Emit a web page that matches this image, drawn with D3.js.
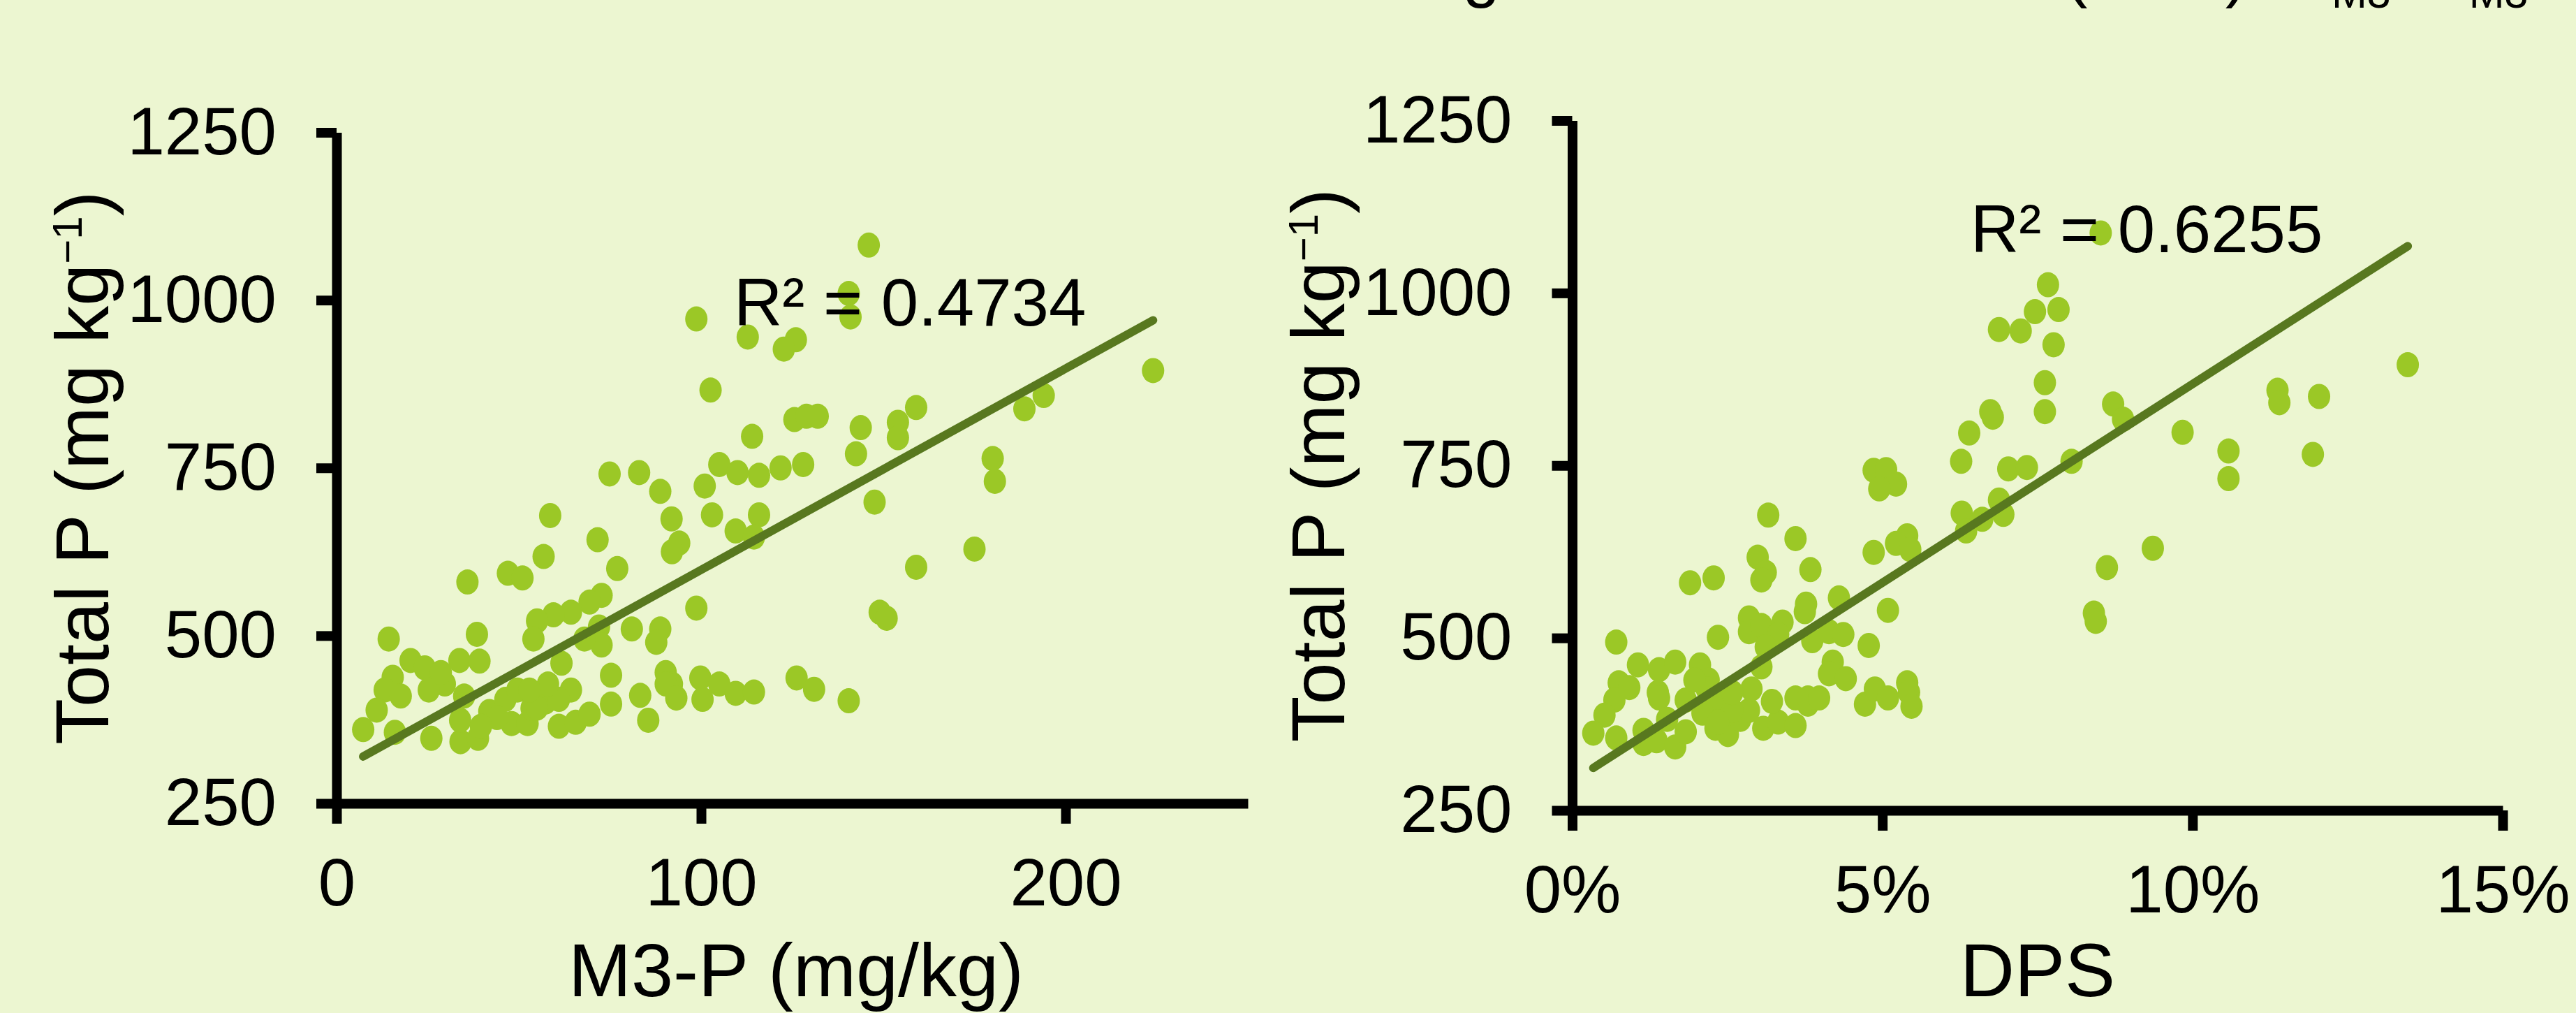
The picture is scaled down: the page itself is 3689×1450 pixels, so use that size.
<!DOCTYPE html>
<html lang="en">
<head>
<meta charset="UTF-8">
<title>Total P vs M3-P and DPS</title>
<script src="https://d3js.org/d3.v7.min.js"></script>
<style>
  body { margin: 0; background: #ecf6d1; }
  svg { display: block; font-family: "Liberation Sans", Arial, sans-serif; }
  .axis path, .axis line { stroke: #000; stroke-width: 14; }
  .axis text { font-family: "Liberation Sans", Arial, sans-serif; font-size: 96px; fill: #000; }
</style>
</head>
<body>
<svg id="chart" width="3689" height="1450"></svg>
<script>
// values
const yTicks = [250, 500, 750, 1000, 1250];

// left panel: Mehlich-3 P (mg/kg) vs total P (mg/kg)
const m3pTicks = [0, 100, 200];
const m3p = [146, 140.5, 141, 98.7, 112.8, 126, 122.7, 224, 102.6, 159, 194, 188.7, 125.6, 128.9, 132,
  143.8, 154, 154, 114, 142.5, 180, 180.6, 105, 110, 115.9, 121.8, 128, 74.9, 83, 101, 88.8, 147.6,
  58.6, 91.9, 103, 115.9, 109.5, 114.5, 71.6, 94, 92, 175, 159, 77, 56.8, 47, 51, 35.9, 72.7, 69.4,
  64.3, 59.5, 55, 54, 98.7, 149, 150.9, 81, 88.8, 87.7, 72, 72.7, 68, 38.5, 14.3, 33.7, 39.2, 61.7,
  20.3, 24.2, 15.4, 29.7, 25.3, 13.2, 11, 17.6, 7.3, 16, 26, 34, 38.8, 35, 33.9, 41.9, 48, 52.4, 46.3,
  49.6, 53.5, 57.3, 61, 65.6, 69.4, 64.3, 61, 75.3, 75.3, 83.3, 85.5, 90.3, 92, 90.3, 93.2, 99.8,
  100.4, 105, 109.5, 114.5, 126.2, 131, 140.5, 58, 55, 44, 39.6, 52.9, 28.6];
const totalP1 = [1082, 1010, 975, 972, 945, 941, 927, 895, 866, 840, 858, 838, 822, 827, 827,
  810, 818, 795, 797, 771, 764, 730, 755, 743, 739, 750, 755, 741, 743, 723, 715, 699,
  679, 674, 680, 680, 656, 647, 643, 638, 625, 629, 602, 600, 618, 593, 586, 580, 560, 550,
  535, 531, 522, 495, 541, 535, 526, 510, 510, 490, 513, 486, 495, 502, 495, 463, 462, 459,
  463, 452, 438, 428, 419, 419, 389, 410, 360, 356, 347, 342, 347, 410, 374, 387, 369, 369, 405,
  419, 392, 401, 365, 371, 383, 419, 405, 398, 441, 411, 374, 445, 428, 428, 407, 437,
  405, 428, 414, 416, 437, 420, 403, 428, 392, 378, 365, 419, 445];
const m3pTrendX = [7.3, 224];
const m3pSlope = 3.0, m3pIntercept = 298;

// right panel: degree of P saturation (%) vs total P (mg/kg)
const dpsTicks = [0, 5, 10, 15];
const dps = [8.52, 7.67, 7.46, 7.84, 6.88, 7.23, 7.76, 13.47, 7.62, 6.74, 6.78, 7.62, 11.37, 11.4, 12.04,
  8.72, 8.88, 6.4, 9.84, 10.58, 10.58, 11.94, 8.05, 6.27, 7.03, 7.33, 4.86, 5.06, 5.22, 4.95, 6.88,
  6.95, 6.28, 6.61, 6.35, 3.16, 3.6, 5.4, 5.22, 5.45, 9.36, 4.86, 2.99, 3.84, 3.12, 3.05, 8.62, 2.28,
  1.9, 4.3, 3.77, 3.75, 5.09, 8.41, 8.44, 2.85, 2.85, 3.05, 3.39, 3.32, 3.12, 2.35, 3.87, 4.14, 4.37,
  4.78, 3.05, 0.71, 1.06, 1.4, 1.66, 2.06, 4.2, 4.14, 4.41, 0.75, 0.92, 2.2, 2.17, 1.38, 1.4, 0.68,
  0.52, 0.34, 0.71, 1.15, 1.15, 1.36, 1.66, 1.83, 1.53, 1.83, 2.31, 2.31, 2.51, 2.71, 2.85, 2.89,
  3.08, 3.32, 3.6, 3.22, 3.6, 3.8, 3.8, 3.98, 4.72, 4.88, 5.09, 5.4, 5.43, 5.47, 2.58, 2.1, 2.35,
  2.58, 1.97];
const totalP2 = [1087, 1012, 973, 976, 947, 945, 925, 896, 870, 828, 820, 828, 859, 841, 850,
  839, 817, 797, 798, 771, 731, 766, 756, 756, 745, 747, 743, 744, 723, 716, 700,
  679, 681, 672, 655, 678, 644, 648, 637, 628, 630, 624, 617, 599, 595, 584, 602, 587,
  580, 558, 549, 538, 540, 536, 524, 529, 509, 518, 523, 505, 487, 501, 496, 509, 505,
  489, 458, 494, 461, 454, 465, 461, 465, 448, 441, 435, 428, 439, 426, 421, 413, 410,
  388, 362, 355, 366, 347, 351, 342, 364, 382, 410, 408, 369, 360, 382, 395, 426,
  369, 378, 373, 408, 413, 404, 413, 413, 404, 426, 413, 435, 421, 401, 395, 391, 378,
  421, 439];
const dpsTrendX = [0.34, 13.47];
const dpsSlope = 57.6, dpsIntercept = 292;

const svg = d3.select("#chart");

function drawPanel(p) {
  const x = d3.scaleLinear().domain(p.xDomain).range(p.xRange);
  const y = d3.scaleLinear().domain([250, 1250]).range(p.yRange);

  // points
  svg.append("g").selectAll("ellipse")
    .data(d3.zip(p.xs, p.ys))
    .join("ellipse")
    .attr("cx", d => x(d[0]))
    .attr("cy", d => y(d[1]))
    .attr("rx", 16)
    .attr("ry", 18)
    .attr("fill", "#9bc826");

  // linear trend line (drawn on top of the points)
  svg.append("line")
    .attr("x1", x(p.trendX[0])).attr("y1", y(p.intercept + p.slope * p.trendX[0]))
    .attr("x2", x(p.trendX[1])).attr("y2", y(p.intercept + p.slope * p.trendX[1]))
    .attr("stroke", "#58781f")
    .attr("stroke-width", 12)
    .attr("stroke-linecap", "round");

  svg.append("text")
    .attr("x", p.r2Pos[0]).attr("y", p.r2Pos[1])
    .attr("font-size", 96)
    .text(p.r2);

  // axes
  svg.append("g").attr("class", "axis")
    .attr("transform", `translate(0,${p.yRange[0]})`)
    .call(d3.axisBottom(x).tickValues(p.xTicks).tickSize(29).tickSizeOuter(0)
      .tickPadding(49).tickFormat(p.xFormat));

  svg.append("g").attr("class", "axis")
    .attr("transform", `translate(${p.xRange[0]},0)`)
    .call(d3.axisLeft(y).tickValues(yTicks).tickSize(29).tickSizeOuter(0)
      .tickPadding(57).tickFormat(d3.format("d")));

  // axis titles
  const yt = svg.append("text")
    .attr("transform", `translate(${p.xRange[0] - 327},${(p.yRange[0] + p.yRange[1]) / 2}) rotate(-90)`)
    .attr("text-anchor", "middle")
    .attr("font-size", 108);
  yt.append("tspan").text("Total P (mg kg");
  yt.append("tspan").attr("font-size", 60).attr("dy", -38).text("\u22121");
  yt.append("tspan").attr("dy", 38).text(")");

  svg.append("text")
    .attr("x", p.xTitleX).attr("y", 1426)
    .attr("text-anchor", "middle")
    .attr("font-size", 108)
    .text(p.xTitle);
}

drawPanel({
  xs: m3p, ys: totalP1, xDomain: [0, 250], xRange: [482, 1787], yRange: [1150, 189.5],
  xTicks: m3pTicks, xFormat: d3.format("d"),
  trendX: m3pTrendX, slope: m3pSlope, intercept: m3pIntercept,
  r2: "R\u00b2 = 0.4734", r2Pos: [1051, 466],
  xTitle: "M3-P (mg/kg)", xTitleX: 1140
});

drawPanel({
  xs: dps, ys: totalP2, xDomain: [0, 15], xRange: [2251.5, 3584], yRange: [1160, 172.5],
  xTicks: dpsTicks, xFormat: d => d + "%",
  trendX: dpsTrendX, slope: dpsSlope, intercept: dpsIntercept,
  r2: "R\u00b2 = 0.6255", r2Pos: [2822, 361],
  xTitle: "DPS", xTitleX: 2918
});

// caption line cut off at the top edge of the picture (as in the reference)
const cap = svg.append("text").attr("x", 1972).attr("y", -8).attr("font-size", 96);
cap.append("tspan").text("Degree of P saturation (DPS)=P");
cap.append("tspan").attr("font-size", 61).attr("dy", 19).text("M3");
cap.append("tspan").attr("dy", -19).text("/Al");
cap.append("tspan").attr("font-size", 61).attr("dy", 19).text("M3");
</script>
</body>
</html>
